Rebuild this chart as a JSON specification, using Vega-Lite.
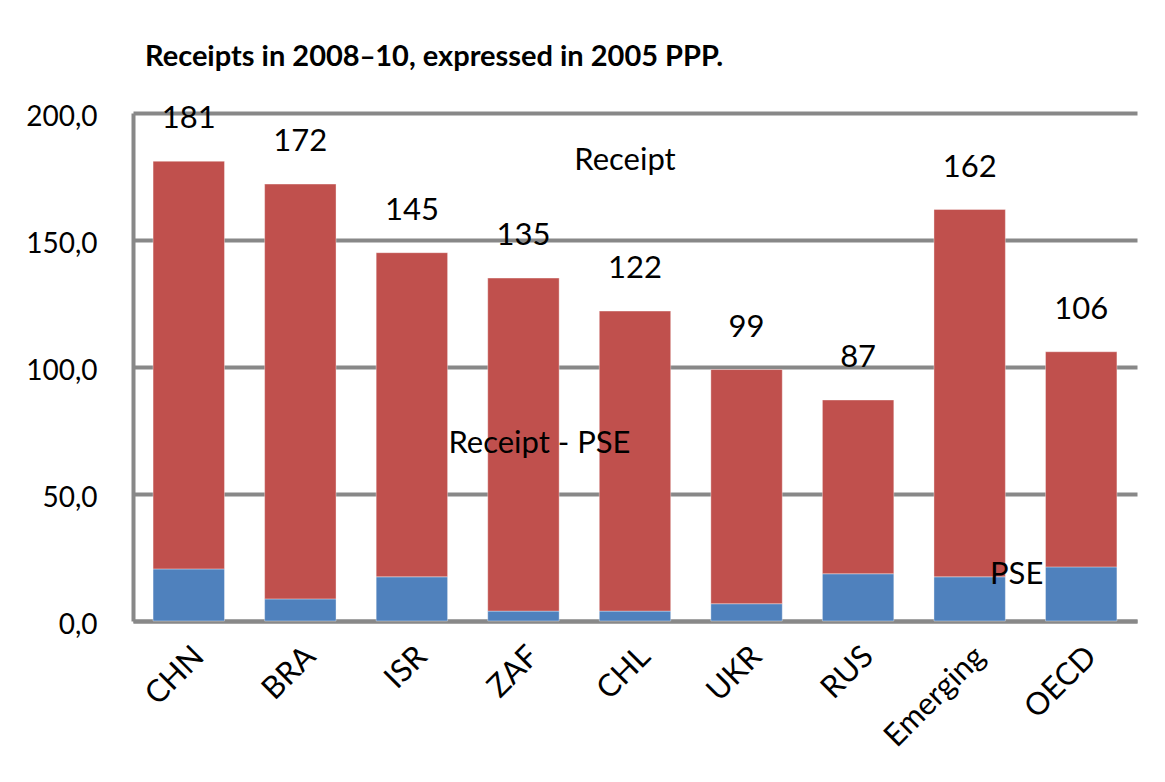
{
  "$schema": "https://vega.github.io/schema/vega-lite/v6.json",
  "width": 1004,
  "height": 508,
  "autosize": {"type": "none"},
  "padding": {"left": 133, "top": 113, "right": 28, "bottom": 161},
  "background": "white",
  "title": {
    "text": "Receipts in 2008‒10, expressed in 2005 PPP.",
    "anchor": "start",
    "frame": "group",
    "dx": 12,
    "offset": 31,
    "font": "Lato",
    "fontSize": 29,
    "fontWeight": "bold",
    "color": "#000000"
  },
  "config": {
    "view": {"stroke": null},
    "font": "Lato"
  },
  "datasets": {
    "bars": [
      {"country": "CHN", "component": "PSE", "order": 1, "value": 20.5},
      {"country": "CHN", "component": "Receipt - PSE", "order": 2, "value": 160.5},
      {"country": "BRA", "component": "PSE", "order": 1, "value": 8.7},
      {"country": "BRA", "component": "Receipt - PSE", "order": 2, "value": 163.3},
      {"country": "ISR", "component": "PSE", "order": 1, "value": 17.4},
      {"country": "ISR", "component": "Receipt - PSE", "order": 2, "value": 127.6},
      {"country": "ZAF", "component": "PSE", "order": 1, "value": 3.9},
      {"country": "ZAF", "component": "Receipt - PSE", "order": 2, "value": 131.1},
      {"country": "CHL", "component": "PSE", "order": 1, "value": 3.9},
      {"country": "CHL", "component": "Receipt - PSE", "order": 2, "value": 118.1},
      {"country": "UKR", "component": "PSE", "order": 1, "value": 6.8},
      {"country": "UKR", "component": "Receipt - PSE", "order": 2, "value": 92.2},
      {"country": "RUS", "component": "PSE", "order": 1, "value": 18.6},
      {"country": "RUS", "component": "Receipt - PSE", "order": 2, "value": 68.4},
      {"country": "Emerging", "component": "PSE", "order": 1, "value": 17.4},
      {"country": "Emerging", "component": "Receipt - PSE", "order": 2, "value": 144.6},
      {"country": "OECD", "component": "PSE", "order": 1, "value": 21.3},
      {"country": "OECD", "component": "Receipt - PSE", "order": 2, "value": 84.7}
    ],
    "totals": [
      {"country": "CHN", "receipt": 181},
      {"country": "BRA", "receipt": 172},
      {"country": "ISR", "receipt": 145},
      {"country": "ZAF", "receipt": 135},
      {"country": "CHL", "receipt": 122},
      {"country": "UKR", "receipt": 99},
      {"country": "RUS", "receipt": 87},
      {"country": "Emerging", "receipt": 162},
      {"country": "OECD", "receipt": 106}
    ]
  },
  "layer": [
    {
      "data": {"name": "bars"},
      "mark": {"type": "bar", "stroke": "#ffffff", "strokeWidth": 0.6, "strokeOpacity": 0.6},
      "encoding": {
        "x": {
          "field": "country",
          "type": "nominal",
          "sort": ["CHN", "BRA", "ISR", "ZAF", "CHL", "UKR", "RUS", "Emerging", "OECD"],
          "scale": {"paddingInner": 0.36, "paddingOuter": 0.18},
          "axis": {
            "title": null,
            "labelAngle": -45,
            "labelFont": "Lato",
            "labelFontSize": 31,
            "labelColor": "#000000",
            "labelPadding": 20,
            "ticks": false,
            "domain": true,
            "domainColor": "#888888",
            "domainWidth": 4
          }
        },
        "y": {
          "field": "value",
          "type": "quantitative",
          "stack": "zero",
          "scale": {"domain": [0, 200], "nice": false},
          "axis": {
            "title": null,
            "values": [0, 50, 100, 150, 200],
            "labelExpr": "replace(format(datum.value, '.1f'), '.', ',')",
            "labelFont": "Lato",
            "labelFontSize": 28,
            "labelColor": "#000000",
            "labelPadding": 36,
            "labelOffset": 4,
            "ticks": false,
            "domain": true,
            "domainColor": "#888888",
            "domainWidth": 4,
            "grid": true,
            "gridColor": "#888888",
            "gridWidth": 4
          }
        },
        "order": {"field": "order", "type": "quantitative"},
        "color": {
          "field": "component",
          "type": "nominal",
          "scale": {"domain": ["PSE", "Receipt - PSE"], "range": ["#4F81BD", "#C0504D"]},
          "legend": null
        }
      }
    },
    {
      "data": {"name": "totals"},
      "mark": {"type": "text", "font": "Lato", "fontSize": 31, "color": "#000000", "baseline": "middle", "dy": -42},
      "encoding": {
        "x": {"field": "country", "type": "nominal", "sort": ["CHN", "BRA", "ISR", "ZAF", "CHL", "UKR", "RUS", "Emerging", "OECD"]},
        "y": {"field": "receipt", "type": "quantitative"},
        "text": {"field": "receipt", "type": "quantitative"}
      }
    },
    {
      "data": {"values": [{"country": "CHL", "y": 181, "label": "Receipt"}]},
      "mark": {"type": "text", "font": "Lato", "fontSize": 31, "color": "#000000", "baseline": "middle", "dx": -10},
      "encoding": {
        "x": {"field": "country", "type": "nominal", "sort": ["CHN", "BRA", "ISR", "ZAF", "CHL", "UKR", "RUS", "Emerging", "OECD"]},
        "y": {"field": "y", "type": "quantitative"},
        "text": {"field": "label"}
      }
    },
    {
      "data": {"values": [{"country": "ZAF", "y": 69.5, "label": "Receipt - PSE"}]},
      "mark": {"type": "text", "font": "Lato", "fontSize": 31, "color": "#000000", "baseline": "middle", "dx": 16},
      "encoding": {
        "x": {"field": "country", "type": "nominal", "sort": ["CHN", "BRA", "ISR", "ZAF", "CHL", "UKR", "RUS", "Emerging", "OECD"]},
        "y": {"field": "y", "type": "quantitative"},
        "text": {"field": "label"}
      }
    },
    {
      "data": {"values": [{"country": "Emerging", "y": 18.3, "label": "PSE"}]},
      "mark": {"type": "text", "font": "Lato", "fontSize": 31, "color": "#000000", "baseline": "middle", "dx": 47},
      "encoding": {
        "x": {"field": "country", "type": "nominal", "sort": ["CHN", "BRA", "ISR", "ZAF", "CHL", "UKR", "RUS", "Emerging", "OECD"]},
        "y": {"field": "y", "type": "quantitative"},
        "text": {"field": "label"}
      }
    }
  ]
}
